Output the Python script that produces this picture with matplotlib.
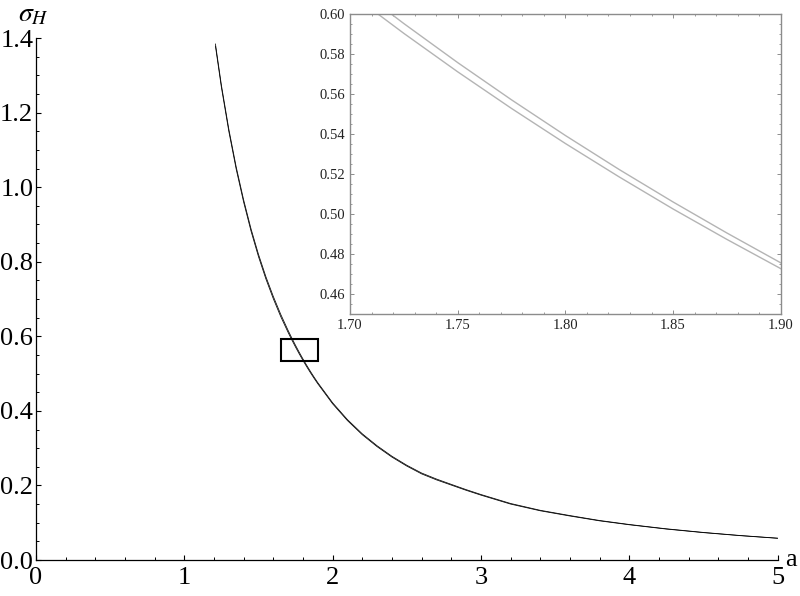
import matplotlib
matplotlib.use("Agg")
import matplotlib.pyplot as plt
from matplotlib.patches import Rectangle
from matplotlib.ticker import MultipleLocator, FormatStrFormatter

plt.rcParams['font.family'] = ['Liberation Serif', 'DejaVu Serif']
plt.rcParams['mathtext.fontset'] = 'stix'

# values
a_vals = [1.21, 1.25, 1.30, 1.35, 1.40, 1.45, 1.50, 1.55, 1.60, 1.65,
          1.70, 1.725, 1.75, 1.775, 1.80, 1.825, 1.85, 1.875, 1.90,
          2.0, 2.1, 2.2, 2.3, 2.4, 2.5, 2.6, 2.7, 2.8, 2.9, 3.0,
          3.2, 3.4, 3.6, 3.8, 4.0, 4.25, 4.5, 4.75, 5.0]
sigma_low = [1.378, 1.268, 1.150, 1.048, 0.960, 0.882, 0.814, 0.754, 0.701, 0.653,
             0.6104, 0.5903, 0.5711, 0.5528, 0.5353, 0.5186, 0.5026, 0.4874, 0.4728,
             0.4190, 0.3740, 0.3360, 0.3040, 0.2760, 0.2520, 0.2310, 0.2150, 0.2010, 0.1870, 0.1740,
             0.1500, 0.1320, 0.1180, 0.1050, 0.0945, 0.0830, 0.0734, 0.0652, 0.0582]
sigma_up = [1.384, 1.274, 1.156, 1.054, 0.966, 0.888, 0.820, 0.760, 0.707, 0.659,
            0.6156, 0.5952, 0.5757, 0.5571, 0.5393, 0.5223, 0.5061, 0.4906, 0.4757,
            0.4217, 0.3765, 0.3385, 0.3064, 0.2783, 0.2542, 0.2333, 0.2172, 0.2029, 0.1888, 0.1757,
            0.1516, 0.1333, 0.1192, 0.1060, 0.0953, 0.0837, 0.0740, 0.0657, 0.0586]

# zoom box drawn on the main plot
box_a = [1.65, 1.90]
box_sigma = [0.535, 0.592]

fig = plt.figure(figsize=(8, 5.96), dpi=100)

# main plot
ax = fig.add_axes([0.045, 0.0604, 0.9269, 0.8758])
ax.plot(a_vals, sigma_low, color='black', lw=0.55)
ax.plot(a_vals, sigma_up, color='black', lw=0.55)
ax.add_patch(Rectangle((box_a[0], box_sigma[0]), box_a[1] - box_a[0], box_sigma[1] - box_sigma[0],
                       fill=False, edgecolor='black', lw=1.5))
ax.set_xlim(0, 5)
ax.set_ylim(0, 1.4)
ax.spines['top'].set_visible(False)
ax.spines['right'].set_visible(False)
ax.spines['left'].set_linewidth(0.9)
ax.spines['bottom'].set_linewidth(0.9)
ax.xaxis.set_major_locator(MultipleLocator(1))
ax.xaxis.set_minor_locator(MultipleLocator(0.2))
ax.yaxis.set_major_locator(MultipleLocator(0.2))
ax.yaxis.set_minor_locator(MultipleLocator(0.05))
ax.yaxis.set_major_formatter(FormatStrFormatter('%.1f'))
ax.tick_params(which='major', direction='in', length=3.6, width=0.8, labelsize=19, pad=2)
ax.tick_params(which='minor', direction='in', length=2, width=0.7)
ax.tick_params(axis='x', which='major', pad=5)
ax.text(1.010, 0.0, 'a', transform=ax.transAxes, fontsize=19, ha='left', va='center')
ax.text(-0.003, 1.02, r'$\sigma_H$', transform=ax.transAxes, fontsize=20, ha='center', va='bottom')

# inset
ins = fig.add_axes([0.4375, 0.4727, 0.5384, 0.5039])
ins.plot(a_vals, sigma_low, color='#b4b4b4', lw=1.0)
ins.plot(a_vals, sigma_up, color='#b4b4b4', lw=1.0)
ins.set_xlim(1.70, 1.90)
ins.set_ylim(0.45, 0.60)
for s in ins.spines.values():
    s.set_color('#8c8c8c')
    s.set_linewidth(1.0)
ins.xaxis.set_major_locator(MultipleLocator(0.05))
ins.xaxis.set_minor_locator(MultipleLocator(0.01))
ins.yaxis.set_major_locator(MultipleLocator(0.02))
ins.yaxis.set_minor_locator(MultipleLocator(0.005))
ins.xaxis.set_major_formatter(FormatStrFormatter('%.2f'))
ins.yaxis.set_major_formatter(FormatStrFormatter('%.2f'))
ins.tick_params(which='both', direction='in', top=True, right=True, color='#8c8c8c',
                labelsize=10.5, labelcolor='#222222')
ins.tick_params(which='major', length=3, width=0.7)
ins.tick_params(which='minor', length=1.6, width=0.6)

fig.savefig('out.png', dpi=100)
